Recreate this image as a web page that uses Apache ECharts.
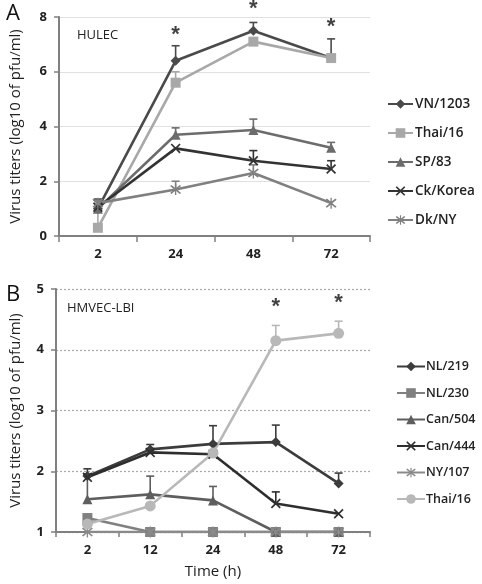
<!DOCTYPE html>
<html><head><meta charset="utf-8">
<script src="https://cdn.jsdelivr.net/npm/echarts@6/dist/echarts.min.js"></script>
<style>html,body{margin:0;padding:0;background:#fff}#c{width:482px;height:584px}</style>
</head><body><div id="c"></div>
<script>
// ---------- Panel A (HULEC) ----------
const catsA = ['2', '24', '48', '72'];
const namesA = ['VN/1203', 'Thai/16', 'SP/83', 'Ck/Korea', 'Dk/NY'];
const vn1203 = [1.0, 6.4, 7.5, 6.5];
const thai16A = [0.3, 5.6, 7.1, 6.5];
const sp83 = [1.0, 3.7, 3.87, 3.22];
const ckKorea = [1.05, 3.2, 2.75, 2.45];
const dkNY = [1.2, 1.7, 2.3, 1.2];
const errVn1203 = [0.35, 0.55, 0.3, 0.7];
const errThai16A = [0.9, 0.4, 0, 0];
const errSp83 = [0.3, 0.25, 0.4, 0.2];
const errCkKorea = [0.25, 0, 0.37, 0.3];
const errDkNY = [0.1, 0.3, 0.3, 0];
const starsA = [[1, 7.35], [2, 8.3], [3, 7.65]];

// ---------- Panel B (HMVEC-LBI) ----------
const catsB = ['2', '12', '24', '48', '72'];
const namesB = ['NL/219', 'NL/230', 'Can/504', 'Can/444', 'NY/107', 'Thai/16'];
const nl219 = [1.92, 2.36, 2.45, 2.48, 1.8];
const nl230 = [1.23, 1.0, 1.0, 1.0, 1.0];
const can504 = [1.54, 1.62, 1.52, 1.0, 1.0];
const can444 = [1.9, 2.31, 2.28, 1.47, 1.3];
const ny107 = [1.0, 1.0, 1.0, 1.0, 1.0];
const thai16B = [1.13, 1.43, 2.3, 4.15, 4.27];
const errNl219 = [0.12, 0.08, 0.3, 0.28, 0.17];
const errNl230 = [0, 0, 0, 0, 0];
const errCan504 = [0.4, 0.3, 0.23, 0, 0];
const errCan444 = [0.05, 0.05, 0, 0.19, 0];
const errNy107 = [0, 0, 0, 0, 0];
const errThai16B = [0, 0, 0, 0.25, 0.2];
const starsB = [[3, 4.71], [4, 4.77]];

const X_PATH = 'path://M0,1.2L1.2,0L5,3.8L8.8,0L10,1.2L6.2,5L10,8.8L8.8,10L5,6.2L1.2,10L0,8.8L3.8,5Z';
const STAR_PATH = 'path://M0,1.2L1.2,0L5,3.8L8.8,0L10,1.2L6.2,5L10,8.8L8.8,10L5,6.2L1.2,10L0,8.8L3.8,5ZM4.4,-1L5.6,-1L5.6,11L4.4,11Z';

const FONT = 'Open Sans, Liberation Sans, sans-serif';

function errRender(params, api) {
  const x = api.value(0), v = api.value(1), e = api.value(2);
  if (!e) return null;
  const p0 = api.coord([x, v]);
  const p1 = api.coord([x, v + e]);
  const c = api.visual('color');
  return {
    type: 'group',
    children: [
      {type: 'line', shape: {x1: p0[0], y1: p0[1], x2: p1[0], y2: p1[1]}, style: {stroke: c, lineWidth: 1.6}},
      {type: 'line', shape: {x1: p1[0] - 4, y1: p1[1], x2: p1[0] + 4, y2: p1[1]}, style: {stroke: c, lineWidth: 1.6}}
    ]
  };
}

function lineSeries(name, data, color, symbol, size, axis) {
  return {
    name: name, type: 'line', data: data,
    xAxisIndex: axis, yAxisIndex: axis,
    symbol: symbol, symbolSize: size,
    lineStyle: {color: color, width: 2.6},
    itemStyle: {color: color},
    z: 3, animation: false
  };
}
function errSeries(name, vals, errs, color, axis) {
  return {
    name: name + '_err', type: 'custom', renderItem: errRender,
    xAxisIndex: axis, yAxisIndex: axis,
    itemStyle: {color: color},
    data: vals.map((v, i) => [i, v, errs[i]]),
    z: 2, animation: false, silent: true
  };
}
function starSeries(data, axis) {
  return {
    type: 'scatter', xAxisIndex: axis, yAxisIndex: axis,
    data: data, symbolSize: 1, clip: false,
    itemStyle: {color: 'rgba(0,0,0,0)'},
    label: {show: true, formatter: '*', position: 'inside', fontSize: 22, fontWeight: 'bold', color: '#111', fontFamily: 'Liberation Sans, sans-serif'},
    z: 5, animation: false, silent: true
  };
}

const colA = ['#4a4a4a', '#a8a8a8', '#6c6c6c', '#333333', '#808080'];
const symA = ['diamond', 'rect', 'triangle', X_PATH, STAR_PATH];
const sizeA = [10, 10, 10, 10, 11];
const valsA = [vn1203, thai16A, sp83, ckKorea, dkNY];
const errsA = [errVn1203, errThai16A, errSp83, errCkKorea, errDkNY];

const colB = ['#3c3c3c', '#808080', '#5e5e5e', '#2e2e2e', '#8a8a8a', '#b8b8b8'];
const symB = ['diamond', 'rect', 'triangle', X_PATH, STAR_PATH, 'circle'];
const sizeB = [10, 10, 10, 10, 11, 11];
const valsB = [nl219, nl230, can504, can444, ny107, thai16B];
const errsB = [errNl219, errNl230, errCan504, errCan444, errNy107, errThai16B];

const series = [];
namesA.forEach((n, i) => series.push(lineSeries(n, valsA[i], colA[i], symA[i], sizeA[i], 0)));
namesA.forEach((n, i) => series.push(errSeries(n, valsA[i], errsA[i], colA[i], 0)));
namesB.forEach((n, i) => series.push(lineSeries(n + ' ', valsB[i], colB[i], symB[i], sizeB[i], 1)));
namesB.forEach((n, i) => series.push(errSeries(n + ' ', valsB[i], errsB[i], colB[i], 1)));
series.push(starSeries(starsA, 0));
series.push(starSeries(starsB, 1));

const axisLabelStyle = {color: '#222', fontSize: 13, fontWeight: 'bold', fontFamily: FONT};
const axisLineStyle = {show: true, lineStyle: {color: '#808080', width: 2}};

const option = {
  backgroundColor: '#fff',
  animation: false,
  title: [
    {text: 'A', left: 1, top: -2, textStyle: {fontSize: 22, fontWeight: 'normal', color: '#111', fontFamily: FONT}},
    {text: 'B', left: 1, top: 279, textStyle: {fontSize: 22, fontWeight: 'normal', color: '#111', fontFamily: FONT}},
    {text: 'HULEC', left: 72, top: 24, textStyle: {fontSize: 13, fontWeight: 'normal', color: '#222', fontFamily: FONT}},
    {text: 'HMVEC-LBI', left: 62, top: 297, textStyle: {fontSize: 13, fontWeight: 'normal', color: '#222', fontFamily: FONT}}
  ],
  legend: [
    {data: namesA, orient: 'vertical', left: 382, top: 92, itemWidth: 25, itemHeight: 12, itemGap: 15,
     textStyle: {fontSize: 13.5, fontWeight: 600, color: '#222', fontFamily: FONT, padding: [0, 0, 0, -3]}},
    {data: namesB.map(n => n + ' '), orient: 'vertical', left: 391, top: 355, itemWidth: 28, itemHeight: 12, itemGap: 13.5,
     formatter: n => n.trim(),
     textStyle: {fontSize: 12.5, fontWeight: 600, color: '#222', fontFamily: FONT, padding: [0, 0, 0, -4]}}
  ],
  grid: [
    {left: 55, right: 112, top: 17, height: 219},
    {left: 51, right: 112, top: 289, height: 243}
  ],
  xAxis: [
    {type: 'category', gridIndex: 0, data: catsA, boundaryGap: true,
     axisLine: axisLineStyle, axisTick: {show: true, length: 6, lineStyle: {color: '#808080', width: 1.5}},
     axisLabel: Object.assign({margin: 12}, axisLabelStyle)},
    {type: 'category', gridIndex: 1, data: catsB, boundaryGap: true,
     axisLine: axisLineStyle, axisTick: {show: true, length: 5, lineStyle: {color: '#808080', width: 1.5}},
     axisLabel: Object.assign({margin: 12}, axisLabelStyle),
     name: 'Time (h)', nameLocation: 'middle', nameGap: 32,
     nameTextStyle: {fontSize: 15, color: '#222', fontFamily: FONT}}
  ],
  yAxis: [
    {type: 'value', gridIndex: 0, min: 0, max: 8, interval: 2,
     axisLine: axisLineStyle, axisTick: {show: true, length: 5, lineStyle: {color: '#808080', width: 1.5}},
     axisLabel: Object.assign({margin: 12}, axisLabelStyle),
     splitLine: {show: true, lineStyle: {color: '#e0e0e0', width: 1.2}},
     name: 'Virus titers (log10 of pfu/ml)', nameLocation: 'middle', nameGap: 36, nameRotate: 90,
     nameTextStyle: {fontSize: 15, color: '#222', fontFamily: FONT}},
    {type: 'value', gridIndex: 1, min: 1, max: 5, interval: 1,
     axisLine: axisLineStyle, axisTick: {show: true, length: 5, lineStyle: {color: '#808080', width: 1.5}},
     axisLabel: Object.assign({margin: 12}, axisLabelStyle),
     splitLine: {show: true, lineStyle: {color: '#aaa', width: 1.2, type: [2, 2]}},
     name: 'Virus titers (log10 of pfu/ml)', nameLocation: 'middle', nameGap: 33, nameRotate: 90,
     nameTextStyle: {fontSize: 15, color: '#222', fontFamily: FONT}}
  ],
  series: series
};

const chart = echarts.init(document.getElementById('c'), null, {renderer: 'canvas'});
chart.setOption(option);
</script>
</body></html>
